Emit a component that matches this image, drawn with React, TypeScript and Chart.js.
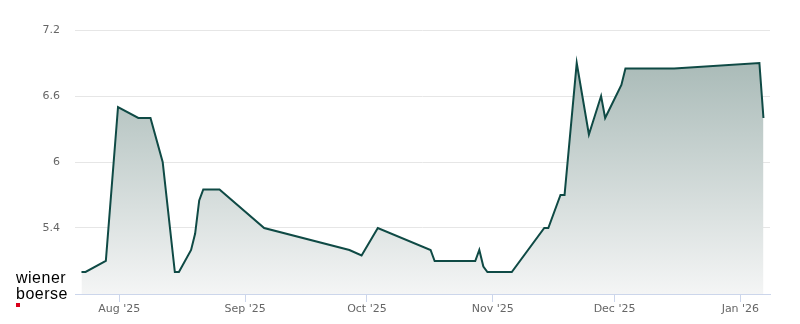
import React, { useEffect, useRef } from "react";
import { Chart, registerables } from "chart.js";

Chart.register(...registerables);

// Trading dates (closing prices)
const dates = [
  "2025-07-22", "2025-07-23", "2025-07-28", "2025-07-31", "2025-08-05", "2025-08-08",
  "2025-08-11", "2025-08-14", "2025-08-15", "2025-08-18", "2025-08-19", "2025-08-20",
  "2025-08-21", "2025-08-25", "2025-09-05", "2025-09-26", "2025-09-29", "2025-10-03",
  "2025-10-16", "2025-10-17", "2025-10-27", "2025-10-28", "2025-10-29", "2025-10-30",
  "2025-11-05", "2025-11-13", "2025-11-14", "2025-11-17", "2025-11-18", "2025-11-21",
  "2025-11-24", "2025-11-27", "2025-11-28", "2025-12-02", "2025-12-03", "2025-12-15",
  "2026-01-05", "2026-01-06",
];
const prices = [
  5.0, 5.0, 5.1, 6.5, 6.4, 6.4,
  6.0, 5.0, 5.0, 5.2, 5.35, 5.65,
  5.75, 5.75, 5.4, 5.2, 5.15, 5.4,
  5.2, 5.1, 5.1, 5.2, 5.05, 5.0,
  5.0, 5.4, 5.4, 5.7, 5.7, 6.9,
  6.25, 6.6, 6.4, 6.7, 6.85, 6.85,
  6.9, 6.4,
];
const closeTime = "T16:30:00Z";

const xTickDates = ["2025-08-01", "2025-09-01", "2025-10-01", "2025-11-01", "2025-12-01", "2026-01-01"];
const xTickLabels = ["Aug '25", "Sep '25", "Oct '25", "Nov '25", "Dec '25", "Jan '26"];
const xAxisStart = "2025-07-21T02:10:00Z";
const xAxisEnd = "2026-01-08T07:10:00Z";

const yTicks = [4.8, 5.4, 6, 6.6, 7.2];
const yTickLabels = ["", "5.4", "6", "6.6", "7.2"];
const yMin = 4.8;
const yMax = 7.2;

const toTime = (s: string) => new Date(s).getTime();

export default function App() {
  const canvasRef = useRef<HTMLCanvasElement | null>(null);

  useEffect(() => {
    const canvas = canvasRef.current;
    if (!canvas) return;
    const points = dates.map((d, i) => ({ x: toTime(d + closeTime), y: prices[i] }));
    const tickTimes = xTickDates.map((d) => toTime(d + "T00:00:00Z"));
    const font = { family: "'DejaVu Sans', sans-serif", size: 11 };

    const chart = new Chart(canvas, {
      type: "line",
      data: {
        datasets: [
          {
            data: points,
            borderColor: "#0f4a45",
            borderWidth: 2,
            pointRadius: 0,
            pointHoverRadius: 0,
            tension: 0,
            fill: "start",
            backgroundColor: (ctx: any) => {
              const ch = ctx.chart;
              const area = ch.chartArea;
              if (!area) return "rgba(0,0,0,0)";
              const top = ch.scales.y.getPixelForValue(Math.max(...prices));
              const g = ch.ctx.createLinearGradient(0, top, 0, area.bottom);
              g.addColorStop(0, "#aabbb8");
              g.addColorStop(1, "#f4f5f5");
              return g;
            },
          },
        ],
      },
      options: {
        responsive: false,
        animation: false,
        devicePixelRatio: 1,
        layout: { padding: { top: 30, right: 30, left: 0, bottom: 0 } },
        plugins: { legend: { display: false }, tooltip: { enabled: false } },
        scales: {
          x: {
            type: "linear",
            min: toTime(xAxisStart),
            max: toTime(xAxisEnd),
            afterBuildTicks: (s: any) => {
              s.ticks = tickTimes.map((v) => ({ value: v }));
            },
            afterFit: (s: any) => {
              s.height = 30;
            },
            ticks: {
              autoSkip: false,
              maxRotation: 0,
              color: "#666666",
              font,
              padding: 1,
              callback: (v: any) => {
                const i = tickTimes.indexOf(Number(v));
                return i >= 0 ? xTickLabels[i] : "";
              },
            },
            grid: {
              drawOnChartArea: false,
              drawTicks: true,
              tickLength: 8,
              tickColor: "#ccd6eb",
              color: "#ccd6eb",
            },
            border: { display: true, color: "#ccd6eb", width: 1 },
          },
          y: {
            min: yMin,
            max: yMax,
            afterBuildTicks: (s: any) => {
              s.ticks = yTicks.map((v) => ({ value: v }));
            },
            afterFit: (s: any) => {
              s.width = 75;
            },
            ticks: {
              color: "#666666",
              font,
              padding: 15,
              callback: (v: any) => {
                const i = yTicks.findIndex((t) => Math.abs(t - Number(v)) < 1e-6);
                return i >= 0 ? yTickLabels[i] : "";
              },
            },
            grid: {
              drawTicks: false,
              color: (ctx: any) =>
                ctx.tick && Math.abs(ctx.tick.value - yMin) < 1e-6 ? "rgba(0,0,0,0)" : "#e6e6e6",
            },
            border: { display: false },
          },
        },
      },
    } as any);

    return () => chart.destroy();
  }, []);

  return (
    <div
      style={{
        position: "absolute",
        left: 0,
        top: 0,
        width: 800,
        height: 324,
        background: "#ffffff",
        overflow: "hidden",
      }}
    >
      <canvas ref={canvasRef} width={800} height={324} style={{ display: "block" }} />
      <div
        style={{
          position: "absolute",
          left: 16,
          top: 270,
          fontFamily: "'Liberation Sans', Arial, sans-serif",
          fontSize: 16,
          lineHeight: "15.7px",
          letterSpacing: "0.5px",
          color: "#000000",
        }}
      >
        <div>wiener</div>
        <div>boerse</div>
      </div>
      <div
        style={{
          position: "absolute",
          left: 16,
          top: 303,
          width: 4,
          height: 4,
          background: "#d9001b",
        }}
      />
    </div>
  );
}
